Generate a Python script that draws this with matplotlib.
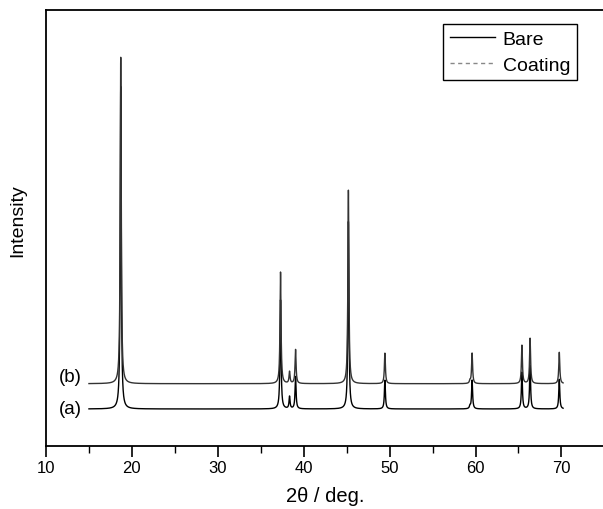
import numpy as np
import matplotlib.pyplot as plt
from matplotlib.lines import Line2D

plt.rcParams['font.family'] = ['Liberation Sans', 'DejaVu Sans']

# Peak positions (2theta, deg)
peak_pos = [18.7, 37.3, 38.35, 39.05, 45.2, 49.45, 59.35, 59.6, 65.4, 66.35, 69.75]
# Peak heights above each trace's baseline (a.u.)
bare_heights = [740, 250, 28, 74, 430, 66, 6, 66, 84, 100, 68]
coating_heights = [749, 256, 27, 78, 444, 70, 6, 70, 88, 104, 72]
bare_base = 85
coating_base = 143
peak_width = 0.07

x = np.arange(15, 70.2, 0.01)


def pattern(base, heights):
    y = np.full_like(x, base, dtype=float)
    for c, h in zip(peak_pos, heights):
        y += h / (1 + ((x - c) / peak_width) ** 2)
    return y


fig = plt.figure(figsize=(6.03, 5.10), dpi=100)
ax = fig.add_axes([0.0763, 0.1235, 0.926, 0.8545])

ax.plot(x, pattern(bare_base, bare_heights), color='black', lw=1.0)
ax.plot(x, pattern(coating_base, coating_heights), color='#333333', lw=1.0)

ax.text(14.2, coating_base + 17, '(b)', ha='right', va='center', fontsize=13.5)
ax.text(14.2, bare_base + 2, '(a)', ha='right', va='center', fontsize=13.5)

ax.set_xlim(10, 75)
ax.set_ylim(0, 1000)
ax.set_xticks(range(10, 71, 10))
ax.set_xticks(range(15, 76, 10), minor=True)
ax.set_yticks([])
ax.tick_params(axis='x', which='major', length=8, width=1.2, labelsize=12,
               direction='out', pad=2)
ax.tick_params(axis='x', which='minor', length=5, width=1.0, direction='out')
for s in ax.spines.values():
    s.set_linewidth(1.3)

ax.set_xlabel('2θ / deg.', fontsize=14.5, labelpad=8)
ax.set_ylabel('Intensity', fontsize=14)
ax.yaxis.set_label_coords(-0.035, 0.52)

handles = [Line2D([], [], color='black', lw=1.0),
           Line2D([], [], color='#888888', lw=1.0, ls=(0, (3, 2.5)))]
leg = ax.legend(handles, ['Bare', 'Coating'], loc='upper right', fontsize=14,
                frameon=True, fancybox=False, edgecolor='black', framealpha=1,
                borderaxespad=0.7, handlelength=2.3, handletextpad=0.4,
                labelspacing=0.4, borderpad=0.35, bbox_to_anchor=(0.975, 1.0))
leg.get_frame().set_linewidth(1.0)

fig.savefig('out.png', dpi=100)
